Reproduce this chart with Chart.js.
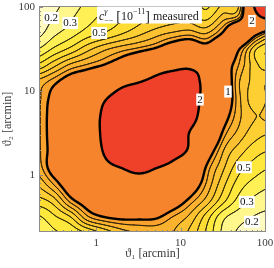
<!DOCTYPE html>
<html>
<head>
<meta charset="utf-8">
<script src="https://cdn.jsdelivr.net/npm/chart.js@4.4.1/dist/chart.umd.min.js"></script>
<style>
  html, body { margin: 0; padding: 0; background: #fff; }
  canvas { display: block; }
</style>
</head>
<body>
<canvas id="chart" width="274" height="268"></canvas>
<script>
// grid nodes (arcmin), same for theta1 and theta2, ~0.2 dex apart
const thetaNodes = [0.2, 0.316, 0.5, 0.794, 1.26, 2, 3.16, 5, 7.94, 12.6, 20, 31.6, 50, 79.4, 126];

// measured c_{--}^gamma [1e-11], rows from theta2 = 126 (top) down to theta2 = 0.2
const cMeasured = [
  [0.12, 0.16, 0.24, 0.31, 0.37, 0.43, 0.50, 0.55, 0.60, 0.58, 0.45, 0.58, 0.70, 2.30, 2.70],
  [0.13, 0.20, 0.28, 0.36, 0.42, 0.48, 0.55, 0.60, 0.64, 0.64, 0.55, 0.72, 0.85, 1.90, 2.30],
  [0.16, 0.27, 0.35, 0.44, 0.50, 0.58, 0.66, 0.74, 0.80, 0.84, 0.78, 1.00, 1.40, 1.10, 0.85],
  [0.30, 0.42, 0.53, 0.67, 0.78, 0.86, 0.93, 1.03, 1.20, 1.30, 1.15, 1.30, 1.00, 0.60, 0.50],
  [0.53, 0.68, 0.84, 0.93, 1.03, 1.20, 1.43, 1.72, 1.85, 1.92, 1.75, 1.20, 0.88, 0.62, 0.55],
  [0.84, 0.97, 1.15, 1.30, 1.55, 1.85, 2.00, 2.15, 2.25, 2.20, 1.85, 1.30, 0.80, 0.68, 0.72],
  [0.87, 1.08, 1.30, 1.60, 1.97, 2.25, 2.40, 2.45, 2.40, 2.20, 1.85, 1.30, 0.82, 0.65, 0.75],
  [0.87, 1.12, 1.40, 1.70, 2.10, 2.40, 2.55, 2.55, 2.45, 2.20, 1.75, 1.15, 0.82, 0.70, 0.75],
  [0.87, 1.12, 1.40, 1.70, 2.10, 2.35, 2.50, 2.50, 2.40, 2.00, 1.60, 0.98, 0.76, 0.64, 0.60],
  [0.87, 1.10, 1.35, 1.65, 2.05, 2.30, 2.40, 2.35, 2.20, 1.95, 1.25, 0.82, 0.65, 0.54, 0.50],
  [0.84, 1.12, 1.35, 1.60, 1.90, 2.02, 2.10, 2.03, 1.90, 1.60, 1.00, 0.73, 0.54, 0.45, 0.40],
  [0.72, 0.92, 1.20, 1.45, 1.70, 1.80, 1.85, 1.80, 1.60, 1.25, 0.90, 0.64, 0.45, 0.36, 0.31],
  [0.56, 0.66, 0.95, 1.15, 1.35, 1.45, 1.50, 1.40, 1.20, 0.97, 0.77, 0.54, 0.36, 0.27, 0.24],
  [0.38, 0.48, 0.60, 0.88, 1.00, 1.05, 1.05, 1.03, 0.90, 0.78, 0.56, 0.33, 0.24, 0.19, 0.17],
  [0.30, 0.38, 0.42, 0.50, 0.62, 0.74, 0.80, 0.82, 0.80, 0.68, 0.49, 0.28, 0.18, 0.15, 0.14]
];

const levels = [0.2, 0.3, 0.4, 0.5, 0.6, 0.7, 0.8, 0.9, 1, 2];
const thickLevels = [1, 2];
// one colour per band: below 0.2, 0.2-0.3, ..., 1-2, above 2
const bandColors = ['#fffbc0', '#fff68c', '#fff056', '#ffe83c', '#fedc34', '#fdcf32',
                    '#fcc130', '#fbb22e', '#f9a22d', '#f5842c', '#ef4129'];

const axisMin = 0.21, axisMax = 103;
const tickValues = [0.3, 0.4, 0.5, 0.6, 0.7, 0.8, 0.9, 1, 2, 3, 4, 5, 6, 7, 8, 9,
                    10, 20, 30, 40, 50, 60, 70, 80, 90, 100];
const majorTicks = [1, 10, 100];

// contour labels [theta1, theta2, text]
const contourLabels = [
  [0.293, 74.1, '0.2'], [0.492, 64.6, '0.3'], [1.086, 49.2, '0.5'],
  [17.0, 7.93, '2'], [36.5, 9.86, '1'], [70.2, 68.3, '2'],
  [56.4, 1.24, '0.5'], [61.2, 0.479, '0.3'], [70.2, 0.278, '0.2']
];

const serif = '"Liberation Serif", "DejaVu Serif", serif';
const grid = cMeasured.slice().reverse();
const logNodes = thetaNodes.map(Math.log10);
const nN = thetaNodes.length;
const clampIdx = k => Math.min(Math.max(k, 0), nN - 1);

function locate(t) {
  let k = 0;
  while (k < nN - 2 && t > logNodes[k + 1]) k++;
  return k + (t - logNodes[k]) / (logNodes[k + 1] - logNodes[k]);
}

function cr(p0, p1, p2, p3, t) {
  return 0.5 * (2 * p1 + (p2 - p0) * t + (2 * p0 - 5 * p1 + 4 * p2 - p3) * t * t
    + (3 * p1 - p0 - 3 * p2 + p3) * t * t * t);
}

function sample(fx, fy) {
  const ix = Math.min(Math.max(Math.floor(fx), 0), nN - 2);
  const iy = Math.min(Math.max(Math.floor(fy), 0), nN - 2);
  const tx = fx - ix, ty = fy - iy;
  const row = k => {
    const r = grid[clampIdx(k)];
    return cr(r[clampIdx(ix - 1)], r[ix], r[ix + 1], r[clampIdx(ix + 2)], tx);
  };
  return cr(row(iy - 1), row(iy), row(iy + 1), row(iy + 2), ty);
}

function hexRgb(h) {
  return [parseInt(h.slice(1, 3), 16), parseInt(h.slice(3, 5), 16), parseInt(h.slice(5, 7), 16)];
}
const bandRgb = bandColors.map(hexRgb);
function bandOf(v) {
  let b = 0;
  while (b < levels.length && v > levels[b]) b++;
  return b;
}

function march(ctx, F, W, H, lv, L, T) {
  const w1 = W + 1;
  for (let j = 0; j < H; j++) {
    for (let i = 0; i < W; i++) {
      const a = F[j * w1 + i], b = F[j * w1 + i + 1];
      const c = F[(j + 1) * w1 + i + 1], d = F[(j + 1) * w1 + i];
      const idx = (a > lv ? 8 : 0) | (b > lv ? 4 : 0) | (c > lv ? 2 : 0) | (d > lv ? 1 : 0);
      if (idx === 0 || idx === 15) continue;
      const top = [L + i + (lv - a) / (b - a), T + j];
      const right = [L + i + 1, T + j + (lv - b) / (c - b)];
      const bottom = [L + i + (lv - d) / (c - d), T + j + 1];
      const left = [L + i, T + j + (lv - a) / (d - a)];
      const segs = [];
      const mid = (a + b + c + d) / 4;
      switch (idx) {
        case 1: case 14: segs.push([left, bottom]); break;
        case 2: case 13: segs.push([bottom, right]); break;
        case 3: case 12: segs.push([left, right]); break;
        case 4: case 11: segs.push([top, right]); break;
        case 6: case 9: segs.push([top, bottom]); break;
        case 7: case 8: segs.push([left, top]); break;
        case 5:
          if (mid > lv) segs.push([left, top], [right, bottom]);
          else segs.push([top, right], [left, bottom]);
          break;
        case 10:
          if (mid > lv) segs.push([top, right], [left, bottom]);
          else segs.push([left, top], [right, bottom]);
          break;
      }
      segs.forEach(s => { ctx.moveTo(s[0][0], s[0][1]); ctx.lineTo(s[1][0], s[1][1]); });
    }
  }
}

const contourPlugin = {
  id: 'contours',
  beforeDatasetsDraw(chart) {
    const { ctx, chartArea: area, scales: { x, y } } = chart;
    const L = Math.round(area.left), T = Math.round(area.top);
    const W = Math.round(area.right) - L, H = Math.round(area.bottom) - T;
    const fx = [], fy = [];
    for (let i = 0; i <= W; i++) fx.push(locate(Math.log10(x.getValueForPixel(L + i))));
    for (let j = 0; j <= H; j++) fy.push(locate(Math.log10(y.getValueForPixel(T + j))));
    const F = new Float64Array((W + 1) * (H + 1));
    for (let j = 0; j <= H; j++)
      for (let i = 0; i <= W; i++) F[j * (W + 1) + i] = sample(fx[i], fy[j]);

    const img = ctx.createImageData(W, H);
    for (let j = 0; j < H; j++) {
      for (let i = 0; i < W; i++) {
        const v = (F[j * (W + 1) + i] + F[j * (W + 1) + i + 1]
          + F[(j + 1) * (W + 1) + i] + F[(j + 1) * (W + 1) + i + 1]) / 4;
        const col = bandRgb[bandOf(v)];
        const p = (j * W + i) * 4;
        img.data[p] = col[0]; img.data[p + 1] = col[1]; img.data[p + 2] = col[2]; img.data[p + 3] = 255;
      }
    }
    ctx.putImageData(img, L, T);

    ctx.save();
    ctx.beginPath();
    ctx.rect(L, T, W, H);
    ctx.clip();
    ctx.lineJoin = 'round';
    ctx.lineCap = 'round';
    levels.forEach(lv => {
      const thick = thickLevels.includes(lv);
      ctx.beginPath();
      march(ctx, F, W, H, lv, L, T);
      ctx.strokeStyle = thick ? '#000' : 'rgba(0,0,0,0.85)';
      ctx.lineWidth = thick ? 2.4 : 0.8;
      ctx.stroke();
    });
    ctx.restore();
  },
  afterDatasetsDraw(chart) {
    const { ctx, scales: { x, y } } = chart;
    ctx.save();
    ctx.font = '11px ' + serif;
    ctx.textAlign = 'center';
    ctx.textBaseline = 'middle';
    contourLabels.forEach(([t1, t2, txt]) => {
      const px = x.getPixelForValue(t1), py = y.getPixelForValue(t2);
      const w = ctx.measureText(txt).width + 2;
      ctx.fillStyle = '#fff';
      ctx.fillRect(px - w / 2, py - 6, w, 12);
      ctx.fillStyle = '#111';
      ctx.fillText(txt, px, py + 0.5);
    });
    ctx.restore();
  },
  afterDraw(chart) {
    const { ctx, chartArea: area, scales: { x, y } } = chart;
    ctx.save();
    // frame
    ctx.strokeStyle = '#8c8c8c';
    ctx.lineWidth = 1;
    ctx.strokeRect(area.left + 0.5, area.top + 0.5, area.right - area.left - 1, area.bottom - area.top - 1);
    // inward ticks on bottom and left
    ctx.beginPath();
    tickValues.forEach(v => {
      const len = majorTicks.includes(v) ? 4 : 2;
      const px = Math.round(x.getPixelForValue(v)) + 0.5;
      ctx.moveTo(px, area.bottom); ctx.lineTo(px, area.bottom - len);
      const py = Math.round(y.getPixelForValue(v)) + 0.5;
      ctx.moveTo(area.left, py); ctx.lineTo(area.left + len, py);
    });
    ctx.stroke();

    // legend box: c^gamma_{--} [10^-11] measured
    const x0 = area.left + 58, y0 = area.top + 0.5;
    ctx.textBaseline = 'alphabetic';
    ctx.textAlign = 'left';
    const parts = [];
    let cx = x0 + 2;
    const put = (txt, font, dy, advance) => {
      ctx.font = font;
      parts.push([txt, font, cx, y0 + dy]);
      const w = ctx.measureText(txt).width;
      if (advance) cx += w;
      return w;
    };
    put('c', 'italic 12px ' + serif, 13, true);
    const wSup = put('γ', 'italic 8px ' + serif, 7, false);
    const wSub = put('−−', '8px ' + serif, 16, false);
    cx += Math.max(wSup, wSub) + 3;
    put('[', '14px ' + serif, 14, true);
    put('10', '12px ' + serif, 13, true);
    put('−11', '8px ' + serif, 7, true);
    put(']', '14px ' + serif, 14, true);
    cx += 3;
    put('measured', '12px ' + serif, 13, true);
    ctx.fillStyle = '#fff';
    ctx.fillRect(x0, y0, cx - x0 + 3, 17);
    ctx.fillStyle = '#222';
    parts.forEach(([txt, font, px, py]) => { ctx.font = font; ctx.fillText(txt, px, py); });
    ctx.restore();
  }
};

function axisOptions(title, isX) {
  return {
    type: 'logarithmic',
    min: axisMin,
    max: axisMax,
    afterBuildTicks: s => { s.ticks = tickValues.map(v => ({ value: v, major: majorTicks.includes(v) })); },
    afterFit: s => {
      if (isX) { s.height = 36; s.paddingLeft = 0; s.paddingRight = 0; }
      else { s.width = 39; s.paddingTop = 0; s.paddingBottom = 0; }
    },
    grid: { display: false, drawTicks: false },
    border: { display: false },
    ticks: {
      autoSkip: false,
      maxRotation: 0,
      padding: isX ? 5 : 4,
      color: '#3a3a3a',
      font: { family: serif, size: 11 },
      callback: v => majorTicks.includes(v) ? String(v) : ''
    },
    title: {
      display: true,
      text: title,
      color: '#3a3a3a',
      font: { family: serif, size: 12 },
      padding: isX ? { top: 0, bottom: 7 } : { top: 1, bottom: 0 }
    }
  };
}

new Chart(document.getElementById('chart').getContext('2d'), {
  type: 'scatter',
  data: {
    datasets: [{
      label: 'c measured',
      data: thetaNodes.map(t => ({ x: t, y: t })),
      pointRadius: 0,
      showLine: false
    }]
  },
  options: {
    responsive: false,
    animation: false,
    layout: { padding: { top: 6, right: 8, left: 0, bottom: 0 } },
    plugins: { legend: { display: false }, tooltip: { enabled: false } },
    scales: {
      x: axisOptions('ϑ₁ [arcmin]', true),
      y: axisOptions('ϑ₂ [arcmin]', false)
    }
  },
  plugins: [contourPlugin]
});
</script>
</body>
</html>
